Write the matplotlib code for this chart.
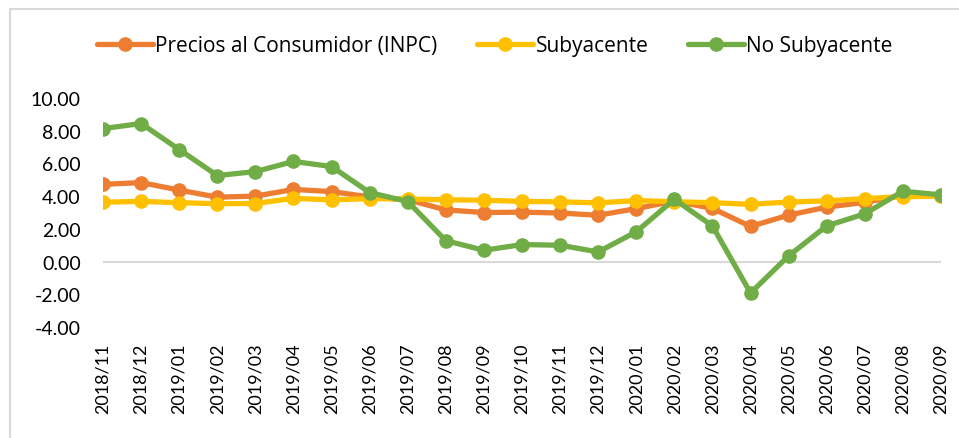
import matplotlib
matplotlib.use('Agg')
import matplotlib.pyplot as plt
from matplotlib.patches import Rectangle

months = ['2018/11', '2018/12', '2019/01', '2019/02', '2019/03', '2019/04',
          '2019/05', '2019/06', '2019/07', '2019/08', '2019/09', '2019/10',
          '2019/11', '2019/12', '2020/01', '2020/02', '2020/03', '2020/04',
          '2020/05', '2020/06', '2020/07', '2020/08', '2020/09']
inpc = [4.72, 4.83, 4.37, 3.94, 4.00, 4.41, 4.28, 3.95, 3.78, 3.16, 3.00, 3.02,
        2.97, 2.83, 3.24, 3.70, 3.25, 2.15, 2.84, 3.33, 3.62, 4.05, 4.01]
subyacente = [3.63, 3.68, 3.60, 3.54, 3.55, 3.87, 3.77, 3.85, 3.82, 3.78, 3.75, 3.68,
              3.65, 3.59, 3.73, 3.66, 3.60, 3.50, 3.64, 3.71, 3.85, 3.97, 3.99]
no_subyacente = [8.13, 8.44, 6.85, 5.26, 5.50, 6.12, 5.81, 4.22, 3.67, 1.28, 0.69, 1.04,
                 1.00, 0.59, 1.82, 3.81, 2.18, -1.92, 0.35, 2.18, 2.92, 4.30, 4.08]

plt.rcParams['font.family'] = ['Lato', 'DejaVu Sans']

fig = plt.figure(figsize=(9.59, 4.39), dpi=100)
ax = fig.add_axes([0.1074, 0.2528, 0.8738, 0.5217])

xs = list(range(len(months)))
series = [(inpc, '#ED7D31', 'Precios al Consumidor (INPC)'),
          (subyacente, '#FFC000', 'Subyacente'),
          (no_subyacente, '#70AD47', 'No Subyacente')]
for vals, col, lab in series:
    ax.plot(xs, vals, color=col, lw=3.8, marker='o', ms=9.5, label=lab,
            solid_capstyle='round')

ax.axhline(0, color='#D9D9D9', lw=1.5, zorder=0)
ax.set_xlim(0, len(months) - 1)
ax.set_ylim(-4, 10)
ax.set_yticks(range(-4, 11, 2))
ax.set_yticklabels(['%.2f' % v for v in range(-4, 11, 2)], fontsize=14)
ax.set_xticks(xs)
ax.set_xticklabels(months, rotation=90, fontsize=13)
ax.tick_params(length=0)
ax.tick_params(axis='x', pad=11)
ax.tick_params(axis='y', pad=16)
for s in ax.spines.values():
    s.set_visible(False)

fig.legend(loc='center', bbox_to_anchor=(0.516, 0.893), ncol=3, frameon=False,
           prop={'family': ['Open Sans', 'DejaVu Sans'], 'size': 15},
           handlelength=2.7, columnspacing=1.9, handletextpad=0.1)

fig.patches.append(Rectangle((10 / 959, -0.05), 1.2, 1 - 10 / 439 + 0.05,
                             transform=fig.transFigure, fill=False,
                             edgecolor='#D9D9D9', lw=1.5))

fig.savefig('out.png', dpi=100)
